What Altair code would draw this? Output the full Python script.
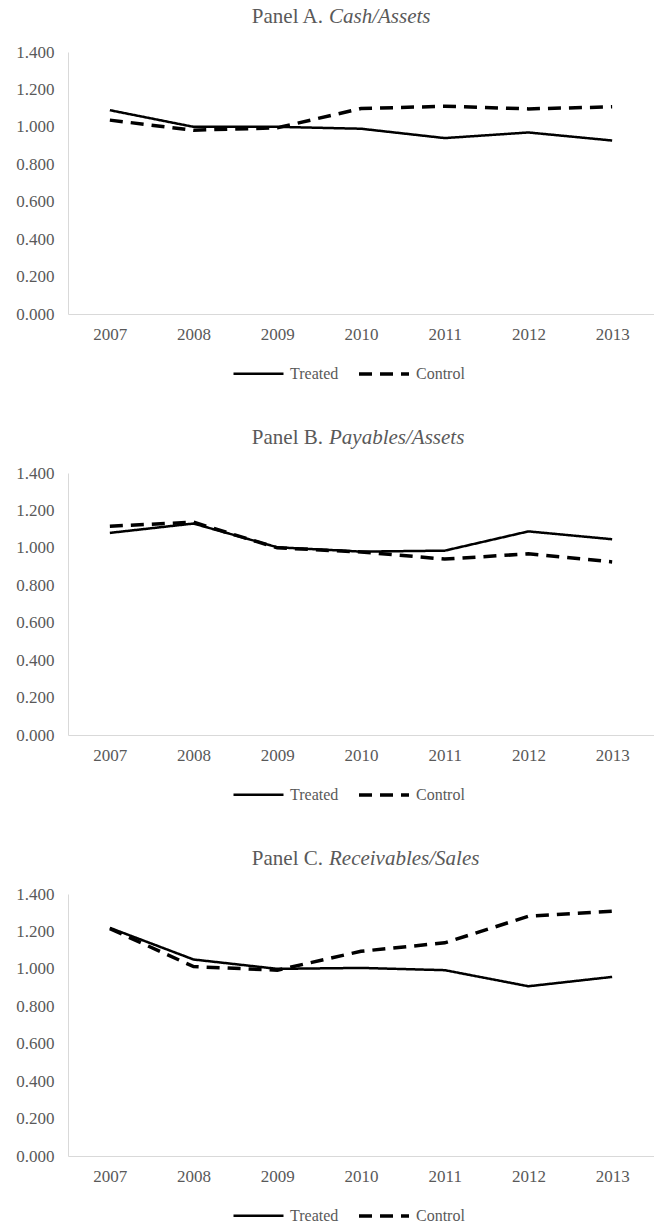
import altair as alt
import pandas as pd

years = ["2007", "2008", "2009", "2010", "2011", "2012", "2013"]
series_names = ["Treated", "Control"]

cash_treated = [1.089, 1.000, 1.000, 0.990, 0.940, 0.970, 0.927]
cash_control = [1.036, 0.982, 0.995, 1.098, 1.110, 1.096, 1.107]
pay_treated = [1.080, 1.130, 1.003, 0.980, 0.985, 1.088, 1.046]
pay_control = [1.116, 1.137, 1.000, 0.978, 0.940, 0.968, 0.925]
rec_treated = [1.219, 1.050, 1.000, 1.005, 0.993, 0.907, 0.957]
rec_control = [1.215, 1.012, 0.993, 1.094, 1.139, 1.281, 1.308]

panel_prefixes = ["Panel A.", "Panel B.", "Panel C."]
panel_names = ["Cash/Assets", "Payables/Assets", "Receivables/Sales"]
y_ticks = [0.0, 0.2, 0.4, 0.6, 0.8, 1.0, 1.2, 1.4]

FONT = "Liberation Serif"
GREY = "#595959"
AXIS_GREY = "#d9d9d9"


def make_panel(prefix, name, treated, control):
    df = pd.DataFrame({
        "Year": years * 2,
        "Value": treated + control,
        "Series": ["Treated"] * len(years) + ["Control"] * len(years),
    })
    lines = alt.Chart(df).mark_line(color="black").encode(
        x=alt.X("Year:O", sort=years,
                scale=alt.Scale(type="point", padding=0.5),
                axis=alt.Axis(title=None, labelAngle=0, ticks=False, grid=False,
                              domainColor=AXIS_GREY, labelFont=FONT,
                              labelFontSize=17, labelColor=GREY, labelPadding=12)),
        y=alt.Y("Value:Q", scale=alt.Scale(domain=[0, 1.4], nice=False),
                axis=alt.Axis(title=None, values=y_ticks, format=".3f", ticks=False,
                              grid=False, domainColor=AXIS_GREY, labelFont=FONT,
                              labelFontSize=17, labelColor=GREY, labelPadding=14)),
        strokeDash=alt.StrokeDash(
            "Series:N",
            scale=alt.Scale(domain=series_names, range=[[1, 0], [13, 8]]),
            legend=alt.Legend(title=None, orient="none", legendX=164, legendY=295,
                              direction="horizontal", symbolType="stroke",
                              symbolSize=2500, symbolStrokeWidth=3,
                              symbolStrokeColor="black", labelFont=FONT,
                              labelFontSize=16, labelColor=GREY, labelOffset=5,
                              columnPadding=13)),
        strokeWidth=alt.StrokeWidth(
            "Series:N",
            scale=alt.Scale(domain=series_names, range=[2.5, 3.5]),
            legend=None),
    )
    t1 = alt.Chart(pd.DataFrame({"t": [prefix]})).mark_text(
        align="right", baseline="middle", font=FONT, fontSize=21, color=GREY
    ).encode(x=alt.value(255), y=alt.value(-35), text="t:N")
    t2 = alt.Chart(pd.DataFrame({"t": [name]})).mark_text(
        align="left", baseline="middle", font=FONT, fontSize=21, color=GREY,
        fontStyle="italic"
    ).encode(x=alt.value(261), y=alt.value(-35), text="t:N")
    return alt.layer(lines, t1, t2).properties(width=586, height=262)


charts = [
    make_panel(panel_prefixes[0], panel_names[0], cash_treated, cash_control),
    make_panel(panel_prefixes[1], panel_names[1], pay_treated, pay_control),
    make_panel(panel_prefixes[2], panel_names[2], rec_treated, rec_control),
]

chart = alt.vconcat(*charts, spacing=45).resolve_scale(
    strokeDash="independent", strokeWidth="independent"
).configure_view(stroke=None).properties(
    padding={"top": 6, "left": 15, "right": 0, "bottom": 0},
    background="white",
)

chart.save("out.html", embed_options={"renderer": "svg", "actions": False})
